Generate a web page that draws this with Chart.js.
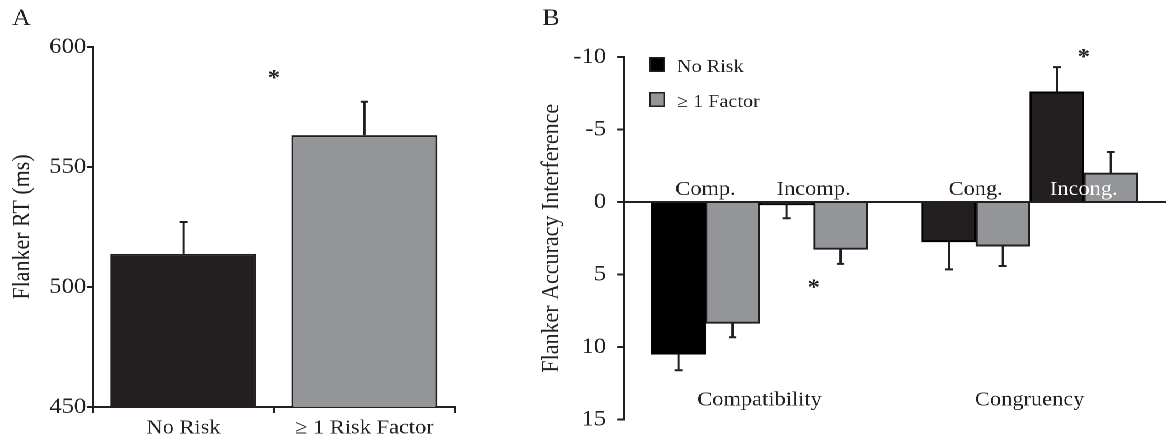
<!DOCTYPE html>
<html>
<head>
<meta charset="utf-8">
<script src="https://cdn.jsdelivr.net/npm/chart.js@4.4.1/dist/chart.umd.min.js"></script>
<style>
  html, body { margin: 0; padding: 0; background: #fff; }
  /* the figure is a little wider than its type, so the whole stage is stretched */
  #stage { position: absolute; left: 0; top: 0; width: 1042px; height: 445px; transform: scaleX(1.12); transform-origin: 0 0; }
  .panel { position: absolute; top: 0; height: 445px; }
</style>
</head>
<body>
<div id="stage">
  <div class="panel" style="left:0;width:470px"><canvas id="chart-a"></canvas></div>
  <div class="panel" style="left:470px;width:572px"><canvas id="chart-b"></canvas></div>
</div>
<script>
// Panel A - flanker RT
const rtGroups = ["No Risk", "≥ 1 Risk Factor"];
const rtMeans = [513.8, 563.3];
const rtErrors = [13.3, 13.9];
const rtTicks = [450, 500, 550, 600];
const rtStars = [{ x: 0.5, y: 589 }];

// Panel B - flanker accuracy interference
const seriesNames = ["No Risk", "≥ 1 Factor"];
const conditionNames = ["Comp.", "Incomp.", "Cong.", "Incong."];
const conditionX = [0, 1, 2.5, 3.5];
const blockNames = ["Compatibility", "Congruency"];
const noRiskAcc = [10.5, 0.2, 2.75, -7.6];
const noRiskAccErr = [1.1, 0.92, 1.9, 1.7];
const factorAcc = [8.37, 3.27, 3.05, -2.0];
const factorAccErr = [0.96, 1.0, 1.36, 1.45];
const accTicks = [-10, -5, 0, 5, 10, 15];
const accStars = [{ x: 1, y: 5.6 }, { x: 3.5, y: -10.3 }];

const INK = "#231f20";
const GREY = "#939598";
const SERIF = "'Liberation Serif', 'Times New Roman', serif";

Chart.defaults.font.family = SERIF;
Chart.defaults.color = INK;

const errorBarsPlugin = {
  id: "errorBars",
  afterDatasetsDraw(chart) {
    const ctx = chart.ctx;
    const yScale = chart.scales.y;
    ctx.save();
    ctx.strokeStyle = INK;
    ctx.lineWidth = 2;
    chart.data.datasets.forEach((ds, i) => {
      if (!ds.errors) return;
      chart.getDatasetMeta(i).data.forEach((bar, j) => {
        const mean = ds.means[j];
        const end = mean + (mean < 0 ? -1 : 1) * ds.errors[j];
        const yEnd = yScale.getPixelForValue(end);
        ctx.beginPath();
        ctx.moveTo(bar.x, bar.y);
        ctx.lineTo(bar.x, yEnd);
        ctx.moveTo(bar.x - 3.5, yEnd);
        ctx.lineTo(bar.x + 3.5, yEnd);
        ctx.stroke();
      });
    });
    ctx.restore();
  },
};

const notesPlugin = {
  id: "notes",
  afterDraw(chart, args, opts) {
    const { ctx, chartArea } = chart;
    const xs = chart.scales.x;
    const ys = chart.scales.y;
    ctx.save();
    ctx.fillStyle = INK;
    ctx.textAlign = "center";
    ctx.textBaseline = "alphabetic";

    ctx.font = "23px " + SERIF;
    ctx.fillText(opts.letter, opts.letterX, 25);

    ctx.font = "bold 22px " + SERIF;
    opts.stars.forEach((s) => {
      ctx.fillText("*", xs.getPixelForValue(s.x), ys.getPixelForValue(s.y) + 11);
    });

    if (opts.conditions) {
      ctx.font = "20px " + SERIF;
      const zero = ys.getPixelForValue(0);
      conditionNames.forEach((name, i) => {
        ctx.fillStyle = opts.conditionColors[i];
        ctx.fillText(name, xs.getPixelForValue(conditionX[i]), zero - 7);
      });
    }

    if (opts.legend) {
      const lx = chartArea.left + 22.4;
      ctx.font = "18px " + SERIF;
      ctx.textAlign = "left";
      chart.data.datasets.forEach((ds, i) => {
        const top = chartArea.top + i * 35;
        ctx.fillStyle = ds.legendFill;
        ctx.fillRect(lx, top, 14.3, 15);
        ctx.strokeStyle = INK;
        ctx.lineWidth = 1.5;
        ctx.strokeRect(lx + 0.75, top + 0.75, 12.8, 13.5);
        ctx.fillStyle = INK;
        ctx.fillText(ds.label, lx + 25, top + 15);
      });
    }
    ctx.restore();
  },
};

// ---------- A ----------
new Chart(document.getElementById("chart-a"), {
  type: "bar",
  data: {
    labels: rtGroups,
    datasets: [
      {
        data: rtMeans,
        means: rtMeans,
        errors: rtErrors,
        backgroundColor: [INK, GREY],
        borderColor: INK,
        borderWidth: 2,
        barPercentage: 0.807,
        categoryPercentage: 1,
      },
    ],
  },
  plugins: [errorBarsPlugin, notesPlugin],
  options: {
    responsive: true,
    maintainAspectRatio: false,
    animation: false,
    devicePixelRatio: 2,
    layout: { padding: { left: 0, right: 63.75, top: 47, bottom: 0 } },
    scales: {
      x: {
        afterFit: (scale) => { scale.height = 38; },
        grid: { offset: true, drawOnChartArea: false, drawTicks: true, tickLength: 6, color: INK, lineWidth: 2 },
        border: { display: true, color: INK, width: 2 },
        ticks: { font: { size: 20 }, color: INK, padding: 3, maxRotation: 0 },
      },
      y: {
        min: 450,
        max: 600,
        afterFit: (scale) => { scale.width = 83; },
        afterBuildTicks: (scale) => { scale.ticks = rtTicks.map((v) => ({ value: v })); },
        grid: { drawOnChartArea: false, drawTicks: true, tickLength: 5, color: INK, lineWidth: 2 },
        border: { display: true, color: INK, width: 2 },
        ticks: { font: { size: 22 }, color: INK, padding: 1, callback: (v) => String(v) },
        title: { display: true, text: "Flanker RT (ms)", font: { size: 22 }, color: INK, padding: { top: 6.9, bottom: 0 } },
      },
    },
    plugins: {
      legend: { display: false },
      tooltip: { enabled: false },
      notes: { letter: "A", letterX: 19.2, stars: rtStars },
    },
  },
});

// ---------- B ----------
const blockCenters = [(conditionX[0] + conditionX[1]) / 2, (conditionX[2] + conditionX[3]) / 2];

new Chart(document.getElementById("chart-b"), {
  type: "bar",
  data: {
    datasets: [
      {
        label: seriesNames[0],
        data: noRiskAcc.map((v, i) => ({ x: conditionX[i], y: v })),
        means: noRiskAcc,
        errors: noRiskAccErr,
        legendFill: "#000",
        backgroundColor: ["#000", INK, INK, INK],
        borderColor: "#000",
        borderWidth: 2,
      },
      {
        label: seriesNames[1],
        data: factorAcc.map((v, i) => ({ x: conditionX[i], y: v })),
        means: factorAcc,
        errors: factorAccErr,
        legendFill: GREY,
        backgroundColor: GREY,
        borderColor: INK,
        borderWidth: 2,
      },
    ],
  },
  plugins: [errorBarsPlugin, notesPlugin],
  options: {
    responsive: true,
    maintainAspectRatio: false,
    animation: false,
    devicePixelRatio: 2,
    layout: { padding: { left: 0, right: 1, top: 57, bottom: 25.5 } },
    datasets: { bar: { barPercentage: 1, categoryPercentage: 1 } },
    scales: {
      x: {
        type: "linear",
        min: -0.755,
        max: 4.26,
        offset: false,
        position: { y: 12.85 },
        grid: { display: false, drawTicks: false, offset: false },
        border: { display: false },
        afterBuildTicks: (scale) => { scale.ticks = blockCenters.map((v) => ({ value: v })); },
        ticks: { font: { size: 20 }, color: INK, padding: 0, maxRotation: 0, autoSkip: false, callback: (v, i) => blockNames[i] },
      },
      y: {
        min: -10,
        max: 15,
        reverse: true,
        afterFit: (scale) => { scale.width = 87.1; },
        afterBuildTicks: (scale) => { scale.ticks = accTicks.map((v) => ({ value: v })); },
        grid: {
          drawOnChartArea: true,
          drawTicks: true,
          tickLength: 6,
          lineWidth: 2,
          tickColor: INK,
          color: (c) => (c.tick && c.tick.value === 0 ? INK : "rgba(0,0,0,0)"),
        },
        border: { display: true, color: INK, width: 2 },
        ticks: { font: { size: 22 }, color: INK, padding: 10, callback: (v) => String(v) },
        title: { display: true, text: "Flanker Accuracy Interference", font: { size: 22 }, color: INK, padding: { top: 9.7, bottom: 0 } },
      },
    },
    plugins: {
      legend: { display: false },
      tooltip: { enabled: false },
      notes: {
        letter: "B",
        letterX: 22,
        stars: accStars,
        conditions: true,
        conditionColors: [INK, INK, INK, "#ffffff"],
        legend: true,
      },
    },
  },
});
</script>
</body>
</html>
